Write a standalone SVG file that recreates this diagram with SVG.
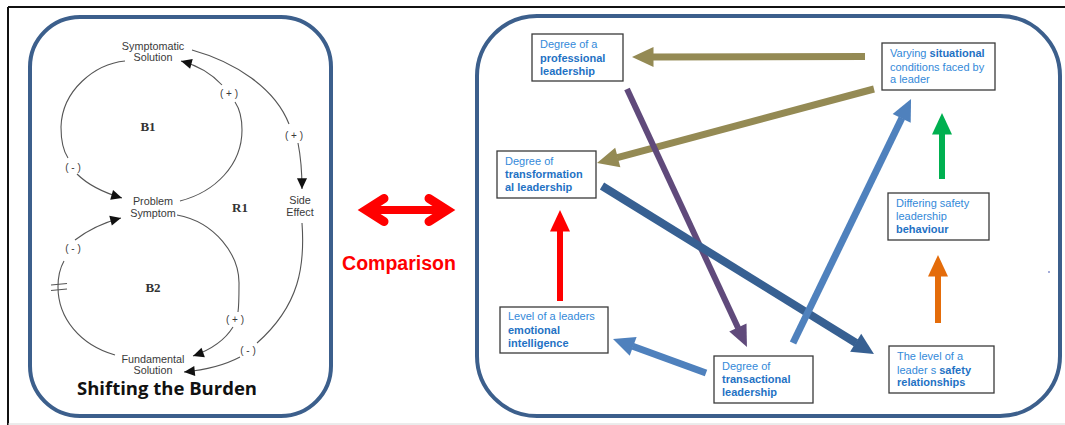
<svg xmlns="http://www.w3.org/2000/svg" width="1065" height="425" viewBox="0 0 1065 425">
  <style>
    .panel { fill: none; stroke: #3c5f8c; stroke-width: 4; }
    .cld { fill: none; stroke: #555; stroke-width: 1.1; }
    .lbl { font-family: "Liberation Sans", Arial, sans-serif; font-size: 10.8px; fill: #3a3a3a; text-anchor: middle; }
    .sign { font-family: "Liberation Sans", Arial, sans-serif; font-size: 10px; fill: #3a3a3a; text-anchor: middle; }
    .loop { font-family: "Liberation Serif", "Times New Roman", serif; font-size: 13px; font-weight: bold; fill: #333; text-anchor: middle; }
    .box rect { fill: #fff; stroke: #3a3a3a; stroke-width: 1.3; }
    .box text { font-family: "Liberation Sans", Arial, sans-serif; font-size: 11px; fill: #3389d9; }
    .box .b { font-weight: bold; fill: #1f72c4; }
    .shaft { fill: none; stroke-linecap: butt; }
  </style>
  <defs>
    <marker id="tri" markerUnits="userSpaceOnUse" markerWidth="12" markerHeight="12" refX="9" refY="0" viewBox="0 -5 10 10" orient="auto" overflow="visible">
      <path d="M0,-4.2 L9,0 L0,4.2 z" fill="#111"/>
    </marker>
    <marker id="hOlive" markerUnits="userSpaceOnUse" markerWidth="24" markerHeight="24" refX="0" refY="0" viewBox="0 -12 24 24" orient="auto" overflow="visible">
      <path d="M-0.5,-10 L21,0 L-0.5,10 z" fill="#948a54"/>
    </marker>
    <marker id="hPurple" markerUnits="userSpaceOnUse" markerWidth="24" markerHeight="24" refX="0" refY="0" viewBox="0 -12 24 24" orient="auto" overflow="visible">
      <path d="M-0.5,-9.5 L21,0 L-0.5,9.5 z" fill="#604a7b"/>
    </marker>
    <marker id="hDark" markerUnits="userSpaceOnUse" markerWidth="24" markerHeight="24" refX="0" refY="0" viewBox="0 -12 24 24" orient="auto" overflow="visible">
      <path d="M-0.5,-10.5 L21,0 L-0.5,10.5 z" fill="#376092"/>
    </marker>
    <marker id="hLight" markerUnits="userSpaceOnUse" markerWidth="24" markerHeight="24" refX="0" refY="0" viewBox="0 -12 24 24" orient="auto" overflow="visible">
      <path d="M-0.5,-10 L21,0 L-0.5,10 z" fill="#4f81bd"/>
    </marker>
    <marker id="hRed" markerUnits="userSpaceOnUse" markerWidth="24" markerHeight="24" refX="0" refY="0" viewBox="0 -12 24 24" orient="auto" overflow="visible">
      <path d="M-0.5,-10 L21,0 L-0.5,10 z" fill="#ff0000"/>
    </marker>
    <marker id="hGreen" markerUnits="userSpaceOnUse" markerWidth="24" markerHeight="24" refX="0" refY="0" viewBox="0 -12 24 24" orient="auto" overflow="visible">
      <path d="M-0.5,-10 L21,0 L-0.5,10 z" fill="#00b050"/>
    </marker>
    <marker id="hOrange" markerUnits="userSpaceOnUse" markerWidth="24" markerHeight="24" refX="0" refY="0" viewBox="0 -12 24 24" orient="auto" overflow="visible">
      <path d="M-0.5,-10 L21,0 L-0.5,10 z" fill="#e46c0a"/>
    </marker>
  </defs>

  <!-- page background and frame -->
  <rect x="0" y="0" width="1065" height="425" fill="#fff"/>
  <line x1="8" y1="7" x2="1065" y2="7" stroke="#111" stroke-width="2"/>
  <line x1="8" y1="7" x2="8" y2="425" stroke="#111" stroke-width="2"/>
  <line x1="8" y1="424" x2="1065" y2="424" stroke="#d8d8d8" stroke-width="1"/>

  <!-- panels -->
  <rect class="panel" x="30" y="17" width="301" height="399" rx="50" ry="50"/>
  <rect class="panel" x="477" y="16" width="583" height="400" rx="60" ry="60"/>

  <!-- causal loop diagram: Shifting the Burden -->
  <g id="cld-links">
    <path class="cld" d="M125,61 C95,64 62,90 61,127 C61,142 64,152 68,158"/>
    <path class="cld" d="M77,174 C88,185 105,193 122,198" marker-end="url(#tri)"/>
    <path class="cld" d="M180,201 C215,192 242,165 242,130 C242,118 239,108 235,102"/>
    <path class="cld" d="M222,85 C210,72 196,65 181,61" marker-end="url(#tri)"/>
    <path class="cld" d="M192,50 C235,62 275,88 289,124"/>
    <path class="cld" d="M298,143 C301,158 302,172 302,189" marker-end="url(#tri)"/>
    <path class="cld" d="M302,223 C305,265 300,305 257,343"/>
    <path class="cld" d="M240,357 C225,365 205,370 184,372" marker-end="url(#tri)"/>
    <path class="cld" d="M177,215 C215,222 240,255 239,285 C239,297 239,305 238,312"/>
    <path class="cld" d="M233,327 C225,340 210,350 193,356" marker-end="url(#tri)"/>
    <path class="cld" d="M115,355 C80,345 58,318 58,287 C58,277 60,268 64,261"/>
    <path class="cld" d="M75,240 C88,230 102,223 121,218" marker-end="url(#tri)"/>
    <!-- delay mark -->
    <line class="cld" x1="51" y1="285" x2="67" y2="283.5"/>
    <line class="cld" x1="51" y1="290.5" x2="67" y2="289"/>
  </g>
  <g id="cld-symptomatic-solution">
    <text class="lbl" x="153" y="50">Symptomatic</text>
    <text class="lbl" x="153" y="61">Solution</text>
  </g>
  <g id="cld-problem-symptom">
    <text class="lbl" x="153" y="205">Problem</text>
    <text class="lbl" x="153" y="217">Symptom</text>
  </g>
  <g id="cld-side-effect">
    <text class="lbl" x="300" y="204">Side</text>
    <text class="lbl" x="300" y="216">Effect</text>
  </g>
  <g id="cld-fundamental-solution">
    <text class="lbl" x="153" y="362.5">Fundamental</text>
    <text class="lbl" x="153" y="374">Solution</text>
  </g>
  <g id="cld-signs">
    <text class="sign" x="229" y="97">( + )</text>
    <text class="sign" x="294" y="139">( + )</text>
    <text class="sign" x="73" y="171">( - )</text>
    <text class="sign" x="73" y="252">( - )</text>
    <text class="sign" x="235" y="323">( + )</text>
    <text class="sign" x="248" y="354">( - )</text>
  </g>
  <g id="cld-loops">
    <text class="loop" x="148" y="131">B1</text>
    <text class="loop" x="240" y="212">R1</text>
    <text class="loop" x="153" y="292">B2</text>
  </g>
  <text x="167" y="395" font-family="'Open Sans', 'Liberation Sans', sans-serif" font-size="18.5" font-weight="bold" fill="#111" text-anchor="middle">Shifting the Burden</text>

  <!-- comparison arrow -->
  <g id="comparison">
    <line x1="366" y1="210" x2="446" y2="210" stroke="#ff0000" stroke-width="8"/>
    <polyline points="384,198.5 366,210 384,221.5" fill="none" stroke="#ff0000" stroke-width="9" stroke-linecap="round" stroke-linejoin="miter"/>
    <polyline points="429,198.5 447,210 429,221.5" fill="none" stroke="#ff0000" stroke-width="9" stroke-linecap="round" stroke-linejoin="miter"/>
    <text x="399" y="270" font-family="'Liberation Sans', Arial, sans-serif" font-size="19.5" font-weight="bold" fill="#ff0000" text-anchor="middle">Comparison</text>
  </g>

  <!-- leadership connectors -->
  <g id="connectors">
    <line class="shaft" x1="865" y1="56.5" x2="653" y2="57" stroke="#948a54" stroke-width="7" marker-end="url(#hOlive)"/>
    <line class="shaft" x1="874" y1="89" x2="617.3" y2="157.6" stroke="#948a54" stroke-width="7" marker-end="url(#hOlive)"/>
    <line class="shaft" x1="627" y1="89" x2="738.1" y2="328" stroke="#604a7b" stroke-width="6" marker-end="url(#hPurple)"/>
    <line class="shaft" x1="602" y1="186" x2="856.1" y2="343" stroke="#376092" stroke-width="8" marker-end="url(#hDark)"/>
    <line class="shaft" x1="793" y1="343" x2="901.9" y2="117.9" stroke="#4f81bd" stroke-width="7" marker-end="url(#hLight)"/>
    <line class="shaft" x1="706" y1="373" x2="632.7" y2="346.2" stroke="#4f81bd" stroke-width="7" marker-end="url(#hLight)"/>
    <line class="shaft" x1="560" y1="301" x2="560" y2="231" stroke="#ff0000" stroke-width="6" marker-end="url(#hRed)"/>
    <line class="shaft" x1="942" y1="179" x2="942" y2="134" stroke="#00b050" stroke-width="6" marker-end="url(#hGreen)"/>
    <line class="shaft" x1="938" y1="323" x2="938" y2="276" stroke="#e46c0a" stroke-width="6" marker-end="url(#hOrange)"/>
  </g>

  <!-- leadership factors -->
  <g id="professional" class="box">
    <rect x="532" y="34" width="91" height="47"/>
    <text x="540" y="48">Degree of a</text>
    <text x="540" y="61.5" class="b">professional</text>
    <text x="540" y="75" class="b">leadership</text>
  </g>
  <g id="transformational" class="box">
    <rect x="497" y="151" width="99" height="47"/>
    <text x="505" y="165">Degree of</text>
    <text x="505" y="178" class="b">transformation</text>
    <text x="505" y="191" class="b">al leadership</text>
  </g>
  <g id="emotional" class="box">
    <rect x="500" y="307" width="108" height="46"/>
    <text x="508" y="320">Level  of a leaders</text>
    <text x="508" y="334" class="b">emotional</text>
    <text x="508" y="347" class="b">intelligence</text>
  </g>
  <g id="situational" class="box">
    <rect x="882" y="43" width="113" height="47"/>
    <text x="890" y="57">Varying <tspan class="b">situational</tspan></text>
    <text x="890" y="70.5">conditions faced by</text>
    <text x="890" y="83">a leader</text>
  </g>
  <g id="behaviour" class="box">
    <rect x="888" y="193" width="101" height="47"/>
    <text x="896" y="207">Differing  safety</text>
    <text x="896" y="220">leadership</text>
    <text x="896" y="233" class="b">behaviour</text>
  </g>
  <g id="transactional" class="box">
    <rect x="714" y="356" width="99" height="47"/>
    <text x="722" y="370">Degree of</text>
    <text x="722" y="383" class="b">transactional</text>
    <text x="722" y="396" class="b">leadership</text>
  </g>
  <g id="relationships" class="box">
    <rect x="889" y="346" width="105" height="47"/>
    <text x="897" y="360">The level of a</text>
    <text x="897" y="373.5">leader s <tspan class="b">safety</tspan></text>
    <text x="897" y="386" class="b">relationships</text>
  </g>
  <circle cx="1049" cy="272" r="0.8" fill="#3344aa"/>
</svg>
